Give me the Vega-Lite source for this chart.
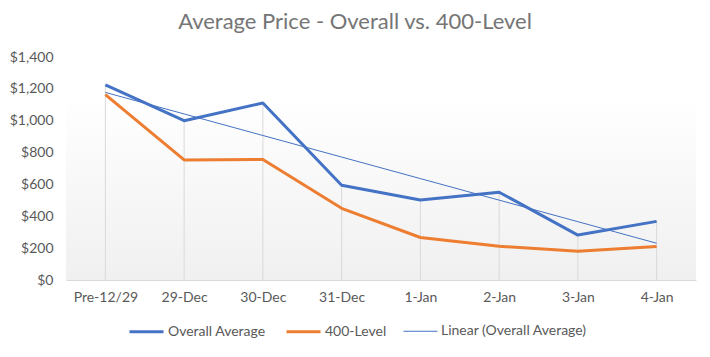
{
  "$schema": "https://vega.github.io/schema/vega-lite/v6.json",
  "width": 630,
  "height": 223,
  "autosize": {"type": "none"},
  "padding": {"left": 66, "top": 57, "right": 14, "bottom": 77},
  "background": "white",
  "title": {
    "text": "Average Price - Overall vs. 400-Level",
    "font": "Lato",
    "fontSize": 22,
    "fontWeight": "normal",
    "color": "#757575",
    "anchor": "middle",
    "dx": -26,
    "offset": 16
  },
  "config": {
    "font": "Lato",
    "view": {
      "stroke": null,
      "fill": {
        "gradient": "linear",
        "x1": 0, "y1": 0, "x2": 0, "y2": 1,
        "stops": [
          {"offset": 0, "color": "#ffffff"},
          {"offset": 0.17, "color": "#ffffff"},
          {"offset": 1, "color": "#f0f0f0"}
        ]
      }
    }
  },
  "data": {
    "values": [
      {"date": "Pre-12/29", "series": "Overall Average", "value": 1225},
      {"date": "29-Dec", "series": "Overall Average", "value": 1000},
      {"date": "30-Dec", "series": "Overall Average", "value": 1111},
      {"date": "31-Dec", "series": "Overall Average", "value": 595},
      {"date": "1-Jan", "series": "Overall Average", "value": 502},
      {"date": "2-Jan", "series": "Overall Average", "value": 551},
      {"date": "3-Jan", "series": "Overall Average", "value": 282},
      {"date": "4-Jan", "series": "Overall Average", "value": 368},
      {"date": "Pre-12/29", "series": "400-Level", "value": 1164},
      {"date": "29-Dec", "series": "400-Level", "value": 754},
      {"date": "30-Dec", "series": "400-Level", "value": 757},
      {"date": "31-Dec", "series": "400-Level", "value": 450},
      {"date": "1-Jan", "series": "400-Level", "value": 267},
      {"date": "2-Jan", "series": "400-Level", "value": 212},
      {"date": "3-Jan", "series": "400-Level", "value": 181},
      {"date": "4-Jan", "series": "400-Level", "value": 210},
      {"date": "Pre-12/29", "series": "Linear (Overall Average)", "value": 1177.7},
      {"date": "29-Dec", "series": "Linear (Overall Average)", "value": 1042.5},
      {"date": "30-Dec", "series": "Linear (Overall Average)", "value": 907.2},
      {"date": "31-Dec", "series": "Linear (Overall Average)", "value": 771.9},
      {"date": "1-Jan", "series": "Linear (Overall Average)", "value": 636.6},
      {"date": "2-Jan", "series": "Linear (Overall Average)", "value": 501.4},
      {"date": "3-Jan", "series": "Linear (Overall Average)", "value": 366.1},
      {"date": "4-Jan", "series": "Linear (Overall Average)", "value": 230.8}
    ]
  },
  "encoding": {
    "x": {
      "field": "date",
      "type": "ordinal",
      "sort": ["Pre-12/29", "29-Dec", "30-Dec", "31-Dec", "1-Jan", "2-Jan", "3-Jan", "4-Jan"],
      "scale": {"type": "point", "padding": 0.5},
      "axis": {
        "title": null,
        "labelAngle": 0,
        "labelFont": "Lato",
        "labelFontSize": 14,
        "labelColor": "#595959",
        "labelPadding": 10,
        "ticks": false,
        "grid": false,
        "domainColor": "#d9d9d9",
        "domainWidth": 1
      }
    },
    "y": {
      "field": "value",
      "type": "quantitative",
      "scale": {"domain": [0, 1400]},
      "axis": {
        "title": null,
        "values": [0, 200, 400, 600, 800, 1000, 1200, 1400],
        "format": "$,.0f",
        "labelFont": "Lato",
        "labelFontSize": 14,
        "labelColor": "#595959",
        "labelPadding": 13,
        "ticks": false,
        "domain": false,
        "grid": false
      }
    }
  },
  "layer": [
    {
      "transform": [{"filter": "datum.series === 'Overall Average'"}],
      "mark": {"type": "rule", "color": "#d9d9d9", "strokeWidth": 1},
      "encoding": {"y2": {"datum": 0}}
    },
    {
      "mark": {"type": "line", "strokeJoin": "round"},
      "encoding": {
        "color": {
          "field": "series",
          "type": "nominal",
          "sort": ["Overall Average", "400-Level", "Linear (Overall Average)"],
          "scale": {
            "domain": ["Overall Average", "400-Level", "Linear (Overall Average)"],
            "range": ["#4472C4", "#ED7D31", "#4472C4"]
          },
          "legend": {
            "title": null,
            "orient": "none",
            "direction": "horizontal",
            "legendX": 62,
            "legendY": 256,
            "symbolType": "stroke",
            "symbolSize": 1156,
            "labelFont": "Lato",
            "labelFontSize": 14,
            "labelColor": "#595959",
            "labelOffset": 3,
            "columnPadding": 14
          }
        },
        "strokeWidth": {
          "field": "series",
          "type": "nominal",
          "sort": ["Overall Average", "400-Level", "Linear (Overall Average)"],
          "scale": {
            "type": "ordinal",
            "domain": ["Overall Average", "400-Level", "Linear (Overall Average)"],
            "range": [3, 3, 1]
          }
        }
      }
    }
  ]
}
